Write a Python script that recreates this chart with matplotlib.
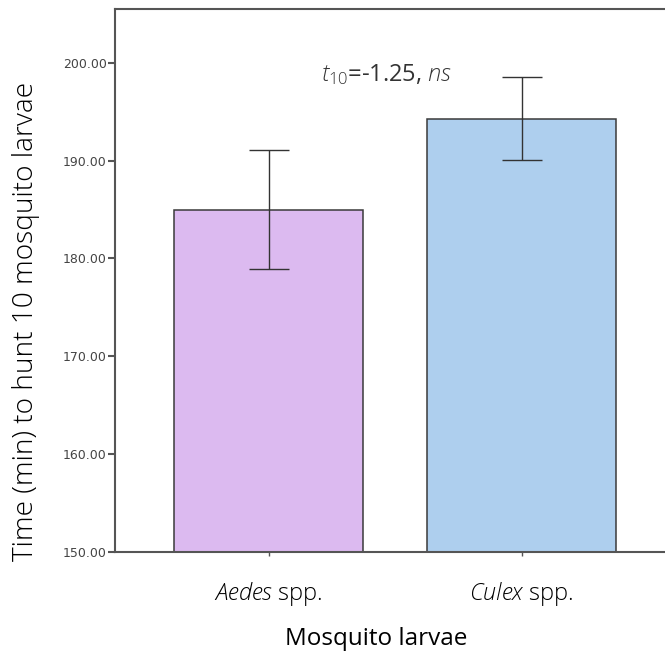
import matplotlib
matplotlib.use("Agg")
import matplotlib.pyplot as plt
import numpy as np

# data
species = ["Aedes", "Culex"]
mean_time = [185.0, 194.3]
err_time = [6.1, 4.2]
bar_colors = ["#dcbaf0", "#aecfee"]
yticks = [150, 160, 170, 180, 190, 200]

plt.rcParams['font.family'] = ['Open Sans', 'DejaVu Sans']
plt.rcParams['mathtext.fontset'] = 'custom'
plt.rcParams['mathtext.rm'] = 'Open Sans:light'
plt.rcParams['mathtext.it'] = 'Open Sans:italic:light'

fig = plt.figure(figsize=(6.65, 6.52), dpi=100)
ax = fig.add_axes([115/665, 1-552/652, 550/665, 543/652])

x = np.arange(len(species))
ax.bar(x, mean_time, width=0.747, color=bar_colors, edgecolor="#3a3a3a",
       linewidth=1.1, zorder=2)
ax.errorbar(x, mean_time, yerr=err_time, fmt="none", ecolor="#333333",
            elinewidth=1.0, capsize=14.4, capthick=1.0, zorder=3)

ax.set_xlim(-0.607, 1.567)
ax.set_ylim(150, 205.5)
ax.set_yticks(yticks)
ax.set_yticklabels(["%.2f" % v for v in yticks], family="Liberation Sans Narrow",
                   fontsize=9, color="#444444")
ax.set_xticks(x)
ax.set_xticklabels([r"$\it{%s}$ spp." % s for s in species], fontsize=17,
                   fontweight="light")

for side in ["left", "top", "bottom"]:
    ax.spines[side].set_color("#555555")
    ax.spines[side].set_linewidth(1.5)
ax.spines["right"].set_visible(False)
ax.tick_params(axis="y", length=5, width=1.5, color="#555555", pad=1)
ax.tick_params(axis="x", length=3, width=1, color="#555555", pad=17)

ax.set_ylabel("Time (min) to hunt 10 mosquito larvae", fontsize=20.2,
              fontweight="light")
ax.yaxis.set_label_coords(-0.137, 0.424)
ax.set_xlabel("Mosquito larvae", fontsize=17.5, fontweight="medium")
ax.xaxis.set_label_coords(0.475, -0.139)

ax.text(0.468, 198.8, r"$t_{10}$=-1.25, $\it{ns}$", fontsize=17,
        color="#333333", ha="center", va="center")

fig.savefig("out.png", dpi=100)
